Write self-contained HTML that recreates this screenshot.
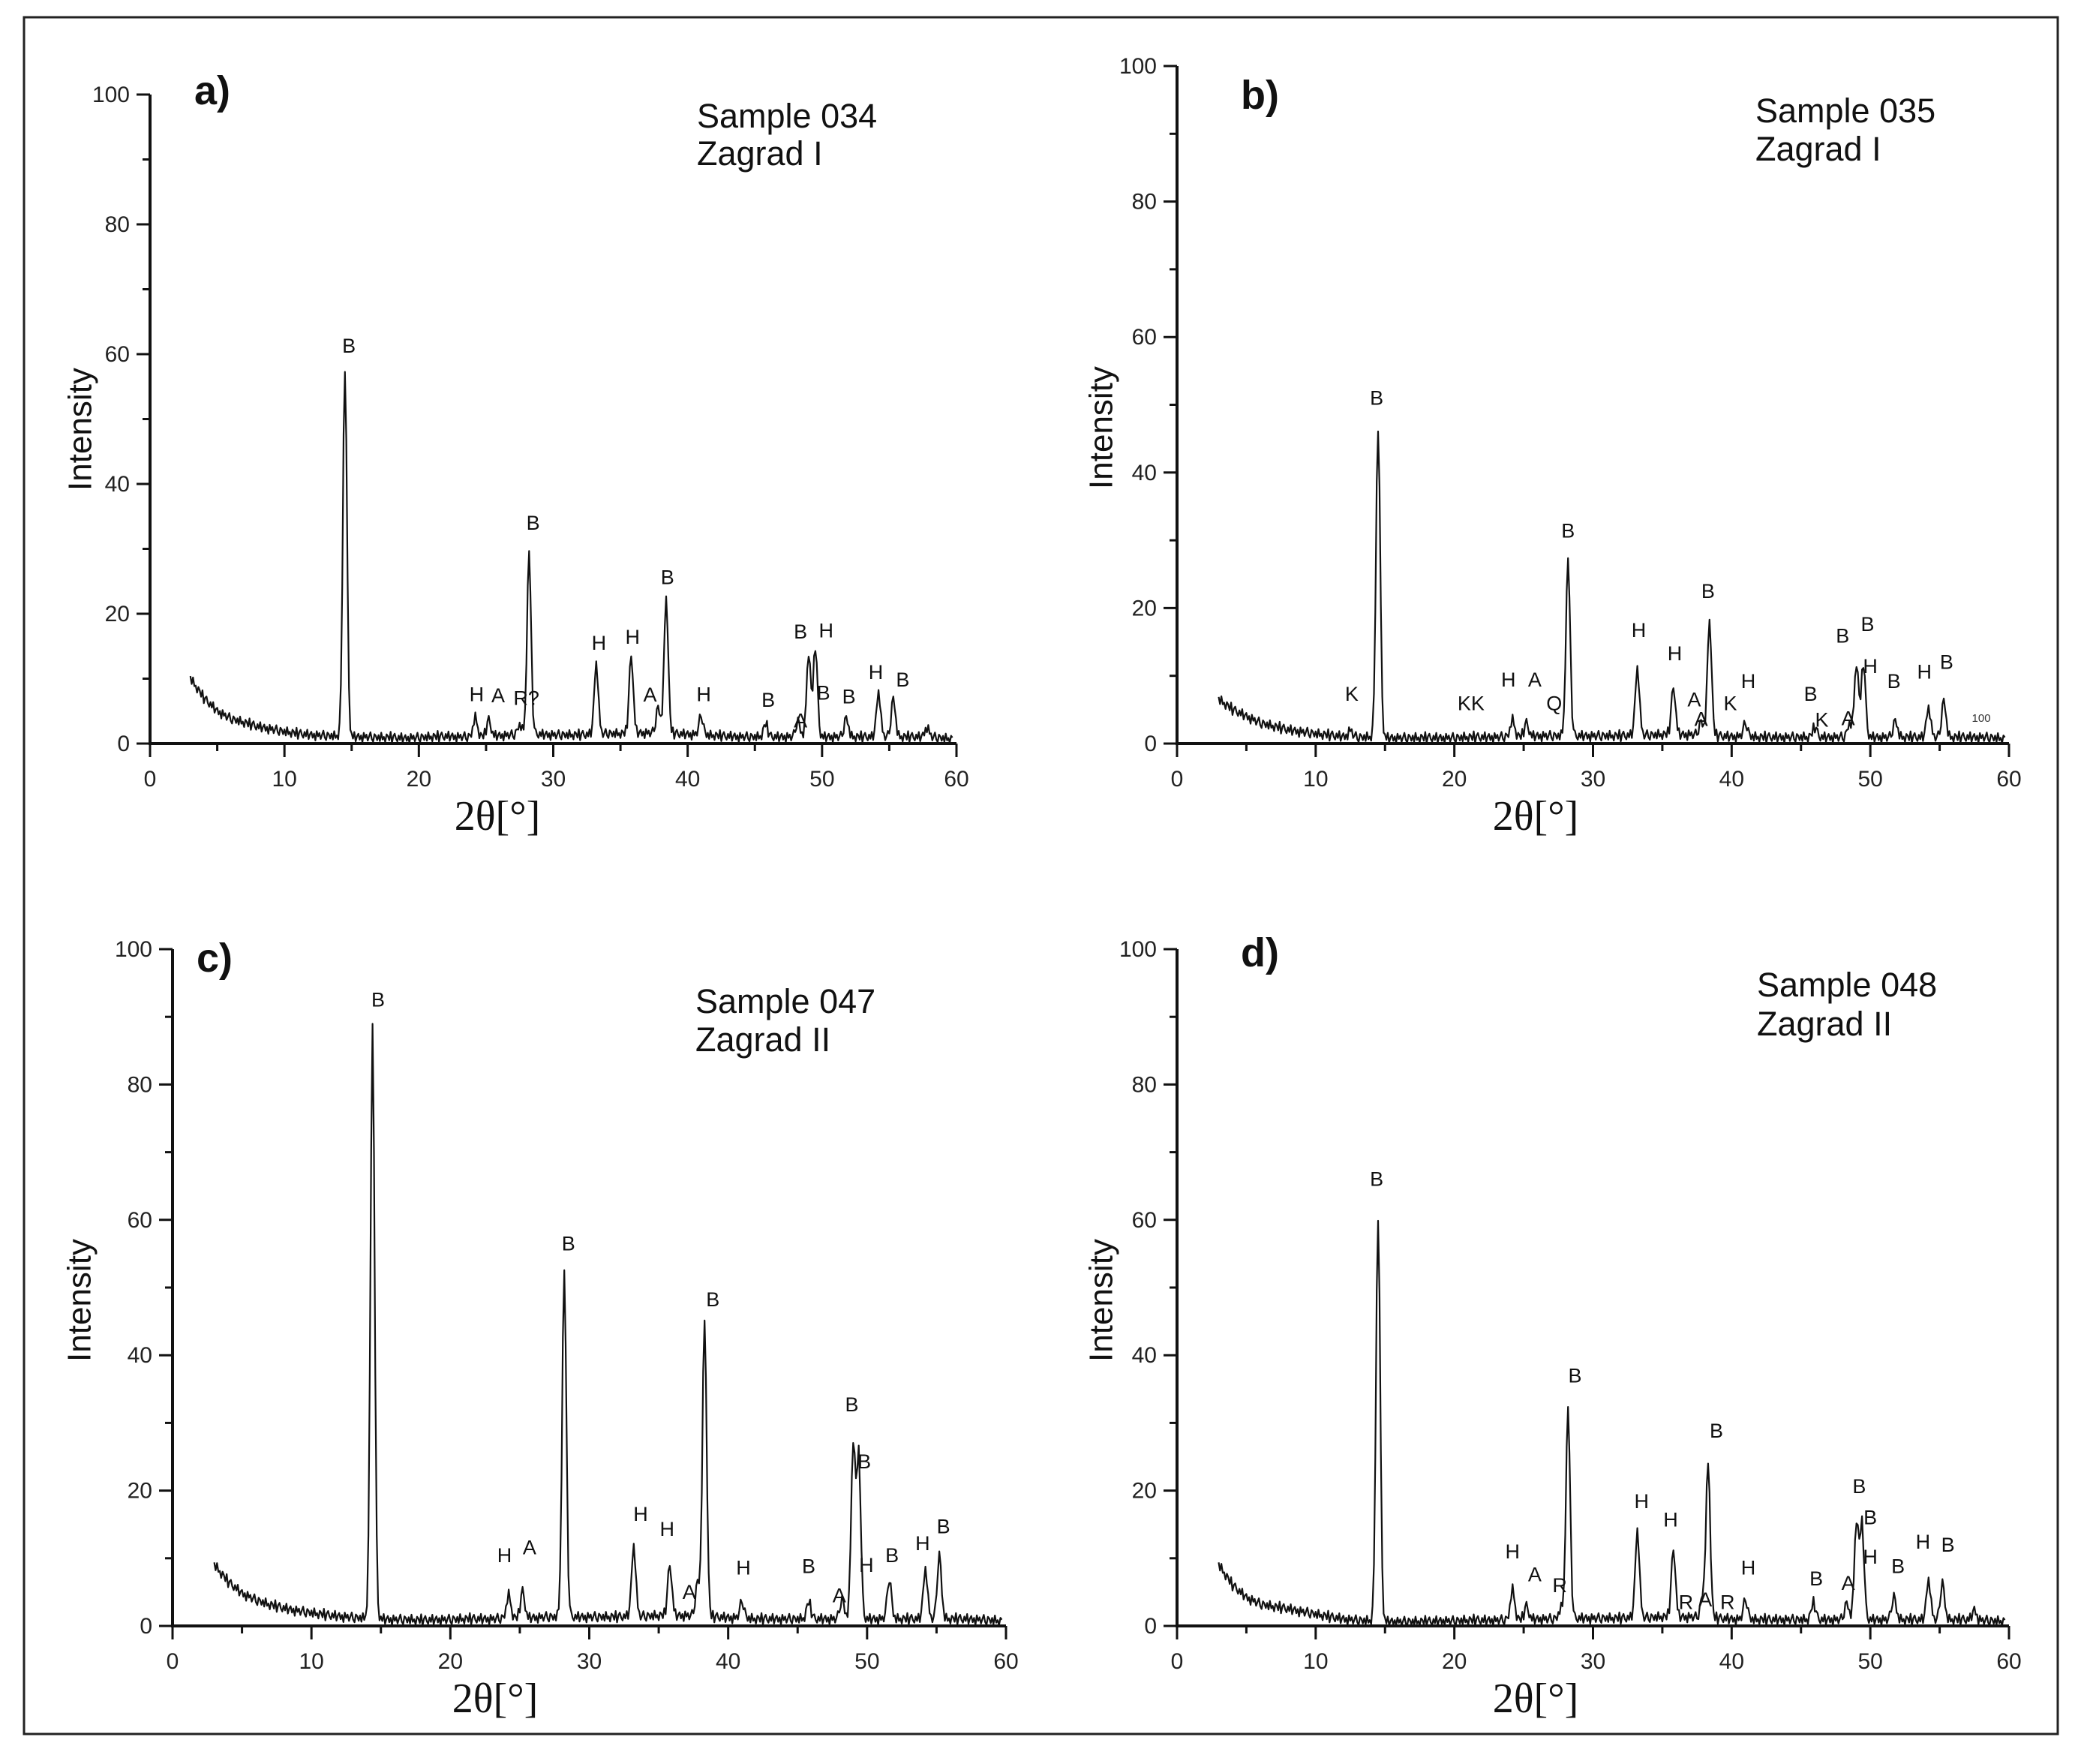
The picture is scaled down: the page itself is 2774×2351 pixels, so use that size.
<!DOCTYPE html>
<html><head><meta charset="utf-8"><style>
html,body{margin:0;padding:0;background:#fff;}
svg{display:block;}
</style></head><body>
<svg id="fig" width="2774" height="2351" viewBox="0 0 2774 2351" xmlns="http://www.w3.org/2000/svg" font-family="Liberation Sans, Arial, sans-serif">
<rect x="32" y="23" width="2711" height="2288" fill="#fff" stroke="#222" stroke-width="3"/>
</svg>
<script>
// ---- data ----
const peaksA=[[14.5,57],[28.2,28],[33.2,11],[35.8,12],[38.4,21],[37.8,4],[24.2,3],[25.2,2.5],[27.5,1.5],[41,3],[45.8,2],[48.2,2.5],[49.0,13],[49.5,14],[51.8,3],[54.2,7],[55.3,6],[57.8,1.5]];
const peaksB=[[14.5,46],[28.2,26],[33.2,10],[35.8,7],[38.4,17],[37.8,2],[41,2],[24.2,2.5],[25.2,2],[12.5,1],[46,1.5],[48.5,2],[49.0,11],[49.5,11],[51.8,2.5],[54.2,4.5],[55.3,5.5]];
const peaksC=[[14.4,87],[28.2,51],[38.3,44],[33.2,10.5],[35.8,7.5],[37.8,5],[24.2,3.5],[25.2,4],[41,2.5],[45.8,2.5],[48.2,3],[49.0,26],[49.4,24],[51.6,6],[54.2,7.5],[55.2,9.5]];
const peaksD=[[14.5,60],[28.2,31],[38.3,23],[33.2,13],[35.8,10],[37.9,3],[24.2,4.5],[25.2,2],[27.7,1.5],[41,3],[45.9,2.5],[48.3,2.5],[49.0,14.5],[49.4,14],[51.7,3.5],[54.2,6],[55.2,5.5],[57.5,1.5]];
// background at 2θ = 3,4,...,60
const bgA=[10,7,5,3.8,3.2,2.6,2.2,1.8,1.5,1.3,1.2,1.1,1,1,0.9,0.9,0.8,0.9,1,1.1,1,1,1.1,1.2,1.3,1.4,1.4,1.3,1.3,1.3,1.4,1.5,1.5,1.6,1.6,1.6,1.5,1.4,1.3,1.2,1.1,1,1,1,1,1,1,1,1,1,1,1,1,1,1,1,0.8,0.6];
const bgB=[6.5,5,4,3,2.5,2,1.7,1.4,1.2,1,0.9,0.9,0.8,0.8,0.8,0.8,0.8,0.8,0.9,0.9,0.9,1,1,1.1,1.1,1.1,1.1,1.1,1.1,1.1,1.2,1.2,1.3,1.3,1.3,1.2,1.1,1,1,0.9,0.9,0.9,0.9,0.9,0.9,0.9,0.9,0.9,0.9,0.9,0.9,0.9,0.9,0.9,0.9,0.9,0.8,0.6];
const bgC=[9,6.5,4.8,3.8,3.1,2.6,2.2,1.9,1.6,1.4,1.2,1.1,1,0.9,0.9,0.8,0.9,0.9,1,1,1,1.1,1.1,1.2,1.3,1.3,1.3,1.3,1.3,1.3,1.4,1.4,1.5,1.5,1.5,1.4,1.3,1.2,1.1,1,1,1,1,1,1,1,1,1,1,1,1,1,1,1,1,0.9,0.8,0.6];
const bgD=[9,6,4.2,3.2,2.8,2.5,2.1,1.7,1.3,1,0.8,0.7,0.6,0.6,0.6,0.6,0.7,0.7,0.8,0.8,0.8,0.9,0.9,1,1,1.1,1.1,1.1,1.1,1.1,1.2,1.2,1.3,1.3,1.3,1.2,1.1,1,0.9,0.9,0.9,0.9,0.9,0.9,0.9,0.9,0.9,0.9,0.9,0.9,0.9,0.9,0.9,0.9,0.9,0.8,0.7,0.6];
const noise=[0.3,-0.4,0.6,-0.2,0.1,-0.5,0.4,0.2,-0.3,0.7,-0.6,0.2,0.5,-0.1,-0.4,0.3,-0.2,0.6,-0.5,0.1,0.4,-0.3,0.2,-0.6,0.5,-0.1,0.3,-0.4,0.1,0.6,-0.2,-0.5,0.4,0.2,-0.3];
const xTicks=[0,10,20,30,40,50,60];
const yTicks=[0,20,40,60,80,100];
const labelsA=[["B",14.8,61.3],["B",28.5,34],["H",33.4,15.5],["H",35.9,16.4],["B",38.5,25.6],["H",24.3,7.6],["A",25.9,7.4],["R?",28,7],["A",37.2,7.5],["H",41.2,7.6],["B",46,6.7],["A",48.4,3.5],["B",48.4,17.2],["H",50.3,17.4],["B",50.1,7.8],["B",52,7.2],["H",54,11],["B",56,9.8]];
const labelsB=[["B",14.4,51],["B",28.2,31.4],["H",33.3,16.7],["H",35.9,13.3],["B",38.3,22.5],["K",12.6,7.3],["KK",21.2,5.9],["H",23.9,9.4],["A",25.8,9.4],["Q",27.2,5.9],["A",37.3,6.5],["A",37.8,3.6],["K",39.9,5.9],["H",41.2,9.2],["B",45.7,7.3],["K",46.5,3.5],["A",48.4,3.7],["B",48,15.9],["B",49.8,17.6],["H",50,11.4],["B",51.7,9.2],["H",53.9,10.6],["B",55.5,12]];
const labelsC=[["B",14.8,92.5],["B",28.5,56.5],["B",38.9,48.2],["B",48.9,32.7],["B",49.8,24.3],["H",33.7,16.5],["H",35.6,14.3],["H",23.9,10.4],["A",25.7,11.6],["A",37.2,5],["H",41.1,8.6],["B",45.8,8.8],["A",48,4.5],["H",49.95,9],["B",51.8,10.4],["H",54,12.2],["B",55.5,14.7]];
const labelsD=[["B",14.4,66],["B",28.7,37],["B",38.9,28.8],["H",33.5,18.4],["H",35.6,15.7],["H",24.2,11],["A",25.8,7.6],["R",27.6,6],["R",36.7,3.5],["A",38.1,3.9],["R",39.7,3.5],["H",41.2,8.6],["B",46.1,7],["A",48.4,6.3],["B",49.2,20.6],["B",50,16],["H",50,10.2],["B",52,8.8],["H",53.8,12.4],["B",55.6,12]];

const NS="http://www.w3.org/2000/svg";
const svg=document.getElementById('fig');
function mk(tag,attrs,parent){const e=document.createElementNS(NS,tag);for(const k in attrs)e.setAttribute(k,attrs[k]);(parent||svg).appendChild(e);return e;}

const panels=[
 {id:'a',peaks:peaksA,bg:bgA,labels:labelsA,x0:200,x1:1275,y0:991,y100:126,letter:[259,139],sample:"Sample 034",site:"Zagrad I",st:[929,170,220],intens:[107,572],title:[663,1106]},
 {id:'b',peaks:peaksB,bg:bgB,labels:labelsB,x0:1569,x1:2678,y0:991,y100:88,letter:[1654,145],sample:"Sample 035",site:"Zagrad I",st:[2340,163,214],intens:[1468,570],title:[2047,1106]},
 {id:'c',peaks:peaksC,bg:bgC,labels:labelsC,x0:230,x1:1341,y0:2167,y100:1265,letter:[262,1295],sample:"Sample 047",site:"Zagrad II",st:[927,1350,1401],intens:[106,1733],title:[660,2282]},
 {id:'d',peaks:peaksD,bg:bgD,labels:labelsD,x0:1569,x1:2678,y0:2167,y100:1265,letter:[1654,1288],sample:"Sample 048",site:"Zagrad II",st:[2342,1328,1380],intens:[1468,1733],title:[2047,2282]}
];

panels.forEach(p=>{
 const X=v=>p.x0+(p.x1-p.x0)*v/60;
 const Y=v=>p.y0-(p.y0-p.y100)*v/100;
 const g=mk('g',{});
 
 
 let d='';let i=0;
 for(let t=3;t<=59.8;t+=0.1){
  const k=Math.floor(t-3),f=(t-3)-k;
  let y=p.bg[k]*(1-f)+p.bg[Math.min(k+1,p.bg.length-1)]*f;
  y+=noise[i%noise.length]*1.3;
  p.peaks.forEach(([c,h])=>{const w=0.15;y+=h*Math.exp(-((t-c)*(t-c))/(2*w*w));});
  if(y<0.1)y=0.1;
  d+=(i?'L':'M')+X(t).toFixed(1)+' '+Y(y).toFixed(1);i++;
 }
 const line=mk('path',{d:d,fill:'none',stroke:'#111','stroke-width':2.2,'stroke-linejoin':'round'},g);
 
 
 const ax=mk('path',{d:`M${p.x0} ${p.y100}V${p.y0}H${p.x1}`,fill:'none',stroke:'#111','stroke-width':4},g);
 
 
 for(let v=0;v<=60;v+=5){const big=v%10===0;mk('line',{x1:X(v),x2:X(v),y1:p.y0,y2:p.y0+(big?18:10),stroke:'#111','stroke-width':3},g);}
 for(let v=0;v<=100;v+=10){const big=v%20===0;mk('line',{x1:p.x0,x2:p.x0-(big?18:10),y1:Y(v),y2:Y(v),stroke:'#111','stroke-width':3},g);}
 xTicks.forEach(v=>{const t=mk('text',{x:X(v),y:p.y0+57,'text-anchor':'middle','font-size':30,fill:'#222'},g);t.textContent=v;
  
  });
 yTicks.forEach(v=>{const t=mk('text',{x:p.x0-27,y:Y(v)+10,'text-anchor':'end','font-size':30,fill:'#222'},g);t.textContent=v;
  
  });
 p.labels.forEach(([s,lx,ly])=>{const t=mk('text',{x:X(lx),y:Y(ly),'text-anchor':'middle','dominant-baseline':'central','font-size':27,fill:'#111'},g);t.textContent=s;
  
  });
 if(p.id==='b'){const t=mk('text',{x:X(58),y:Y(3.7),'text-anchor':'middle','dominant-baseline':'central','font-size':15,fill:'#333'},g);t.textContent='100';
  
  }
 const L=mk('text',{x:p.letter[0],y:p.letter[1],'font-size':54,'font-weight':'bold',fill:'#111'},g);L.textContent=p.id+')';
 
 
 const s1=mk('text',{x:p.st[0],y:p.st[1],'font-size':45,fill:'#111'},g);s1.textContent=p.sample;
 
 
 const s2=mk('text',{x:p.st[0],y:p.st[2],'font-size':45,fill:'#111'},g);s2.textContent=p.site;
 
 
 const yt=mk('text',{x:p.intens[0],y:p.intens[1],'text-anchor':'middle','dominant-baseline':'central','font-size':44,fill:'#111',transform:`rotate(-90 ${p.intens[0]} ${p.intens[1]})`},g);yt.textContent='Intensity';
 
 
 const xt=mk('text',{x:p.title[0],y:p.title[1],'text-anchor':'middle','font-size':56,'font-family':'Liberation Serif, serif',fill:'#111'},g);xt.textContent='2θ[°]';
 
 
});
</script>
</body></html>
